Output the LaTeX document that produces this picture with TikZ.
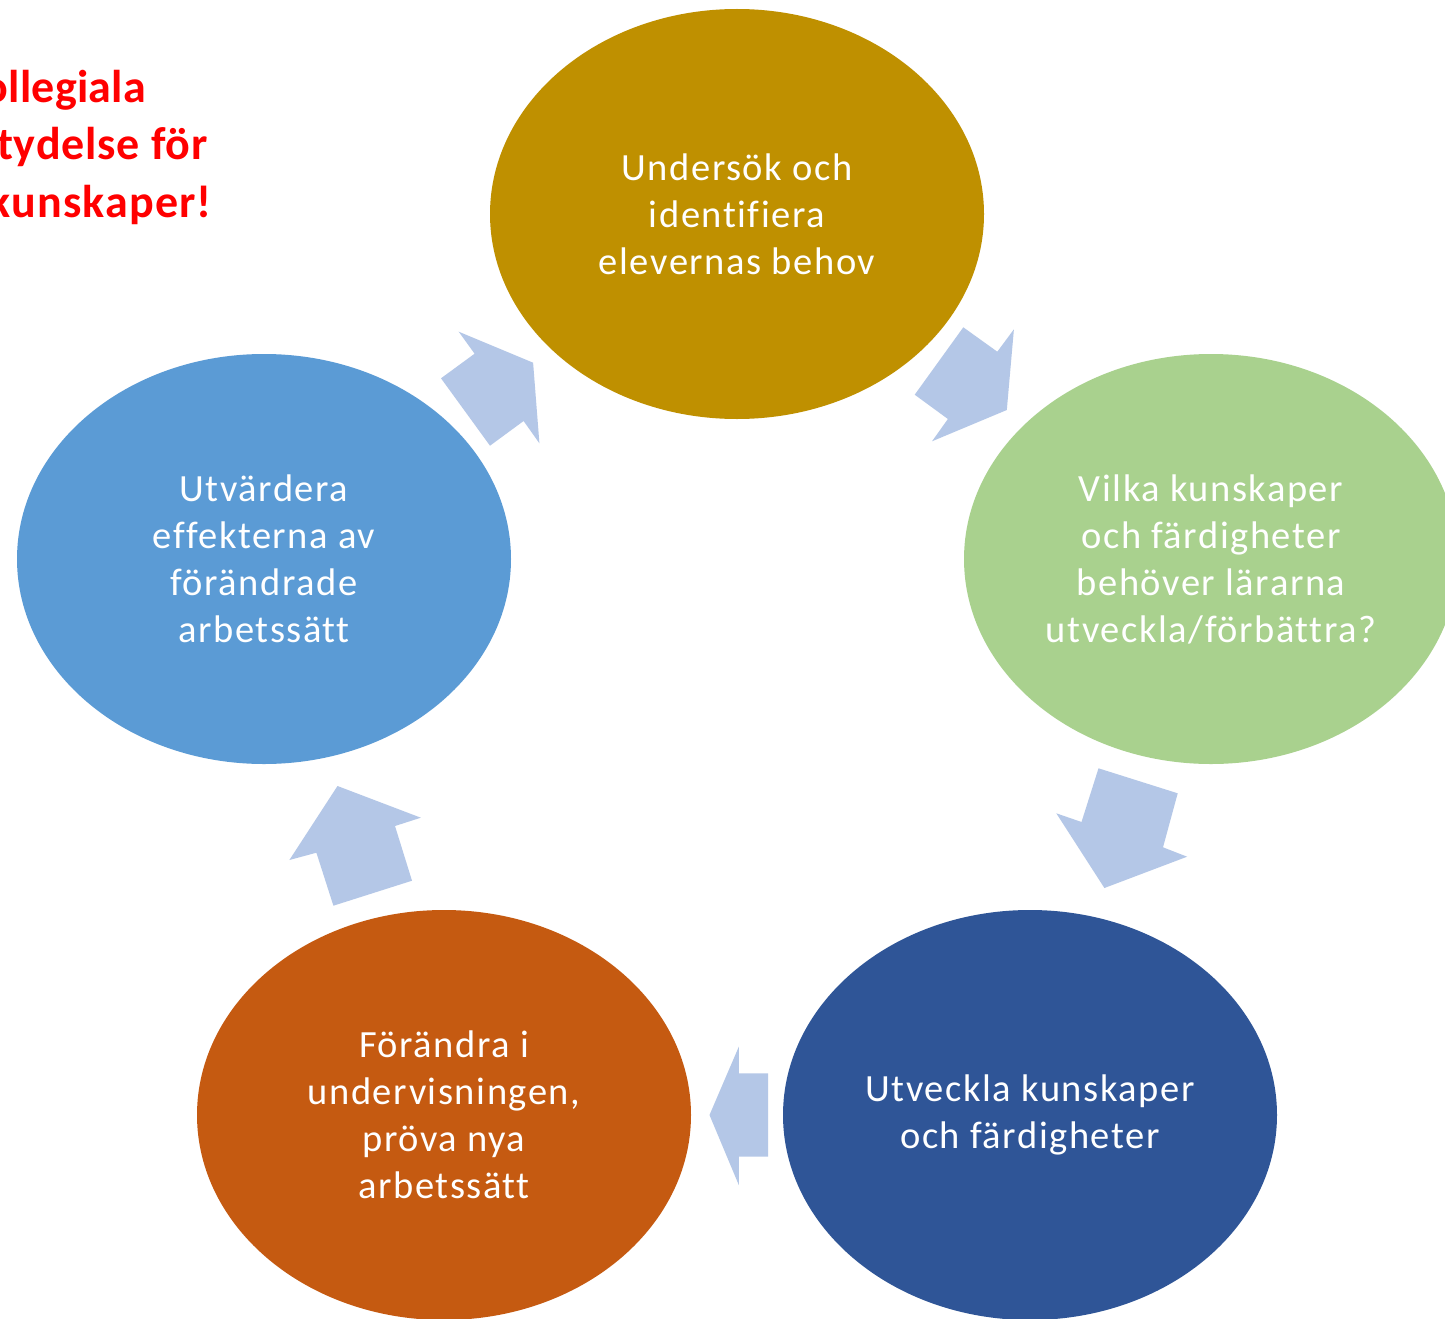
\documentclass[tikz,border=0pt]{standalone}
\usepackage{fontspec}
\setmainfont{Carlito}[Ligatures=CommonOff]
\usetikzlibrary{shapes.geometric}
\definecolor{cgold}{HTML}{BF9000}
\definecolor{cgreen}{HTML}{A9D18E}
\definecolor{cnavy}{HTML}{2F5597}
\definecolor{corange}{HTML}{C55A11}
\definecolor{cblue}{HTML}{5B9BD5}
\definecolor{carrow}{HTML}{B4C7E7}
\definecolor{cred}{HTML}{FF0000}
\tikzset{
  bubble/.style={ellipse, minimum width=494pt, minimum height=410pt, inner sep=0pt,
    text=white, align=center,
    font=\addfontfeature{LetterSpace=4}\fontsize{38.5}{47}\selectfont},
  blockarrow/.style={fill=carrow, draw=none},
  redtext/.style={text=cred, inner sep=0pt, anchor=base east,
    font=\bfseries\addfontfeature{LetterSpace=#1}\fontsize{46}{57}\selectfont},
  redtext/.default=2.5
}
\begin{document}
\begin{tikzpicture}[x=1pt,y=-1pt]
\useasboundingbox (0,0) rectangle (1445,1319);
\clip (0,0) rectangle (1445,1319);
\fill[white] (0,0) rectangle (1445,1319);

\node[bubble, fill=cgold] (n1) at (737,214) {Undersök och\\identifiera\\elevernas behov};
\node[bubble, fill=cgreen] (n2) at (1211,559) {Vilka kunskaper\\och färdigheter\\behöver lärarna\\utveckla/förbättra?};
\node[bubble, fill=cnavy] (n3) at (1030,1115) {Utveckla kunskaper\\och färdigheter};
\node[bubble, fill=corange] (n4) at (444,1115) {Förändra i\\undervisningen,\\pröva nya\\arbetssätt};
\node[bubble, fill=cblue] (n5) at (264,559) {Utvärdera\\effekterna av\\förändrade\\arbetssätt};

% block arrows
\fill[blockarrow] (963.3,327.3) -- (997.3,351.7) -- (1013.9,329.3) -- (1006.8,410)
  -- (932,441.3) -- (947.9,419) -- (914.7,394.7) -- cycle;
\fill[blockarrow] (1098.5,768.3) -- (1177.7,793.3) -- (1163,847.3) -- (1187.1,856.7)
  -- (1104.4,888) -- (1056.3,813.3) -- (1081.5,822) -- cycle;
\fill[blockarrow] (709.5,1115) -- (738.8,1046.7) -- (738.8,1073.3) -- (768.2,1073.3)
  -- (768.2,1156.7) -- (738.8,1156.7) -- (738.8,1185) -- cycle;
\fill[blockarrow] (337.5,786) -- (420.8,817.7) -- (395,826) -- (412,880.7)
  -- (333.4,905.7) -- (316.4,852.7) -- (289.4,860) -- cycle;
\fill[blockarrow] (458.7,331.7) -- (533.1,362.7) -- (539.4,443.3) -- (523.6,421)
  -- (490,445.7) -- (441,378.3) -- (474.6,353.7) -- cycle;

% red heading (as far as it is visible at the left edge)
\node[redtext=0.5] (r1) at (146,103) {ollegiala};
\node[redtext=1.8] (r2) at (208,160) {tydelse för};
\node[redtext=2.5] (r3) at (212,217) {kunskaper!};
\end{tikzpicture}
\end{document}
